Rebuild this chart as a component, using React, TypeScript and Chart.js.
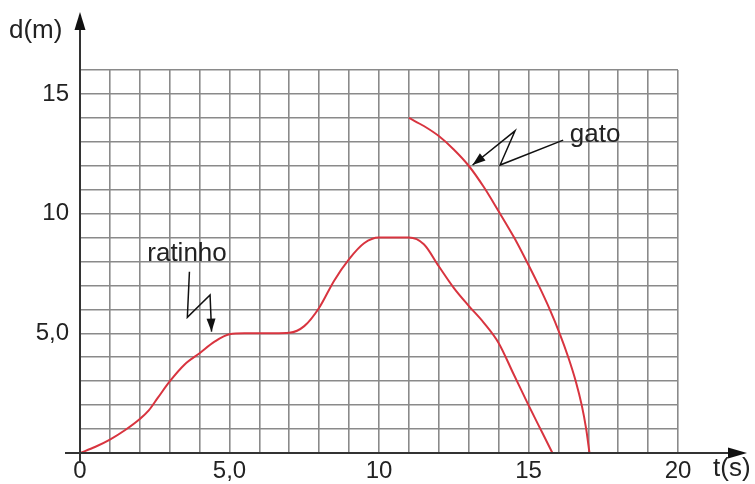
import React, { useEffect, useRef } from "react";
import { Chart, registerables } from "chart.js";

Chart.register(...registerables);

// Ratinho (mouse) distance vs time
const ratinhoT = [0, 0.5, 1, 1.5, 2, 2.3, 2.6, 3, 3.5, 4, 4.5, 5, 5.5, 6, 6.5, 7, 7.5, 8, 8.5, 9, 9.5, 10, 10.5, 11, 11.5, 12, 12.5, 13, 13.5, 14, 14.5, 15, 15.5, 15.8];
const ratinhoD = [0, 0.25, 0.56, 0.95, 1.42, 1.78, 2.3, 2.99, 3.7, 4.17, 4.65, 4.96, 5, 5, 5, 5.02, 5.3, 6.07, 7.2, 8.1, 8.76, 9, 9, 9, 8.72, 7.8, 6.9, 6.15, 5.45, 4.6, 3.3, 2.0, 0.75, 0];

// Gato (cat) distance vs time
const gatoT = [11, 11.5, 12, 12.5, 13, 13.5, 14, 14.52, 14.94, 15.34, 15.71, 16.04, 16.33, 16.58, 16.78, 16.93, 17.04];
const gatoD = [14, 13.66, 13.24, 12.68, 12.0, 11.12, 10.1, 9, 8, 7, 6, 5, 4, 3, 2, 1, 0];

const xTickLabels: Record<number, string> = { 0: "0", 5: "5,0", 10: "10", 15: "15", 20: "20" };
const yTickLabels: Record<number, string> = { 5: "5,0", 10: "10", 15: "15" };

const yTitle = "d(m)";
const xTitle = "t(s)";
const ratinhoLabel = "ratinho";
const gatoLabel = "gato";

// annotation pointer paths in data units
const ratinhoPointer = [[3.66, 7.57], [3.59, 5.67], [4.35, 6.6], [4.4, 5.07]];
const gatoPointer = [[16.16, 13.07], [14.05, 12.03], [14.55, 13.46], [13.13, 12.03]];

const FONT = "'Liberation Sans', Arial, Helvetica, sans-serif";
const RED = "#d8343f";

function arrowHead(ctx: CanvasRenderingContext2D, x1: number, y1: number, x2: number, y2: number, len: number, half: number) {
  const a = Math.atan2(y2 - y1, x2 - x1);
  ctx.beginPath();
  ctx.moveTo(x2, y2);
  ctx.lineTo(x2 - len * Math.cos(a) + half * Math.sin(a), y2 - len * Math.sin(a) - half * Math.cos(a));
  ctx.lineTo(x2 - len * Math.cos(a) - half * Math.sin(a), y2 - len * Math.sin(a) + half * Math.cos(a));
  ctx.closePath();
  ctx.fill();
}

const decorPlugin = {
  id: "decor",
  afterDraw(chart: any) {
    const ctx = chart.ctx as CanvasRenderingContext2D;
    const xs = chart.scales.x;
    const ys = chart.scales.y;
    const x0 = xs.getPixelForValue(0);
    const y0 = ys.getPixelForValue(0);
    ctx.save();
    ctx.strokeStyle = "#333";
    ctx.fillStyle = "#111";
    ctx.lineWidth = 2;
    // y axis
    ctx.beginPath();
    ctx.moveTo(x0, y0 + 9);
    ctx.lineTo(x0, 26);
    ctx.stroke();
    arrowHead(ctx, x0, 40, x0, 12, 18, 5.5);
    // x axis
    ctx.beginPath();
    ctx.moveTo(x0 - 15, y0);
    ctx.lineTo(732, y0);
    ctx.stroke();
    arrowHead(ctx, 700, y0, 747, y0, 19, 5.5);

    ctx.fillStyle = "#222";
    ctx.font = `26px ${FONT}`;
    ctx.textBaseline = "middle";
    ctx.textAlign = "left";
    ctx.fillText(yTitle, 9, 31);
    ctx.fillText(xTitle, 713, 469);

    // annotations
    const P = (p: number[]) => [xs.getPixelForValue(p[0]), ys.getPixelForValue(p[1])];
    ctx.fillText(ratinhoLabel, xs.getPixelForValue(2.25), ys.getPixelForValue(8.3));
    ctx.fillText(gatoLabel, xs.getPixelForValue(16.38), ys.getPixelForValue(13.3));
    ctx.strokeStyle = "#111";
    ctx.fillStyle = "#111";
    ctx.lineWidth = 1.5;
    for (const path of [ratinhoPointer, gatoPointer]) {
      const pts = path.map(P);
      ctx.beginPath();
      ctx.moveTo(pts[0][0], pts[0][1]);
      for (let i = 1; i < pts.length; i++) ctx.lineTo(pts[i][0], pts[i][1]);
      ctx.stroke();
      const a = pts[pts.length - 2];
      const b = pts[pts.length - 1];
      arrowHead(ctx, a[0], a[1], b[0], b[1], 13, 4.5);
    }
    ctx.restore();
  },
};

export default function App() {
  const ref = useRef<HTMLCanvasElement>(null);
  useEffect(() => {
    if (!ref.current) return;
    const chart = new Chart(ref.current, {
      type: "scatter",
      data: {
        datasets: [
          {
            label: "ratinho",
            data: ratinhoT.map((t, i) => ({ x: t, y: ratinhoD[i] })),
            showLine: true,
            borderColor: RED,
            borderWidth: 2,
            pointRadius: 0,
            cubicInterpolationMode: "monotone",
          },
          {
            label: "gato",
            data: gatoT.map((t, i) => ({ x: t, y: gatoD[i] })),
            showLine: true,
            borderColor: RED,
            borderWidth: 2,
            pointRadius: 0,
            cubicInterpolationMode: "monotone",
          },
        ],
      },
      options: {
        responsive: false,
        animation: false,
        devicePixelRatio: 1,
        layout: { padding: { top: 70, right: 77, left: 0, bottom: 0 } },
        plugins: { legend: { display: false }, tooltip: { enabled: false } },
        scales: {
          x: {
            type: "linear",
            min: 0,
            max: 20,
            afterFit: (s: any) => { s.height = 31; },
            border: { display: false },
            grid: { color: "#8a8a8a", lineWidth: 1.6, drawTicks: false },
            ticks: {
              stepSize: 1,
              autoSkip: false,
              maxRotation: 0,
              padding: 4,
              color: "#222",
              font: { size: 24, family: FONT },
              callback: (v: any) => xTickLabels[v] ?? "",
            },
          },
          y: {
            type: "linear",
            min: 0,
            max: 16,
            afterFit: (s: any) => { s.width = 80; },
            border: { display: false },
            grid: { color: "#8a8a8a", lineWidth: 1.6, drawTicks: false },
            ticks: {
              stepSize: 1,
              autoSkip: false,
              padding: 11,
              color: "#222",
              font: { size: 24, family: FONT },
              callback: (v: any) => yTickLabels[v] ?? "",
            },
          },
        },
      },
      plugins: [decorPlugin],
    });
    return () => chart.destroy();
  }, []);
  return (
    <div style={{ position: "fixed", left: 0, top: 0, width: 755, height: 484, background: "#fff" }}>
      <canvas ref={ref} width={755} height={484} />
    </div>
  );
}
